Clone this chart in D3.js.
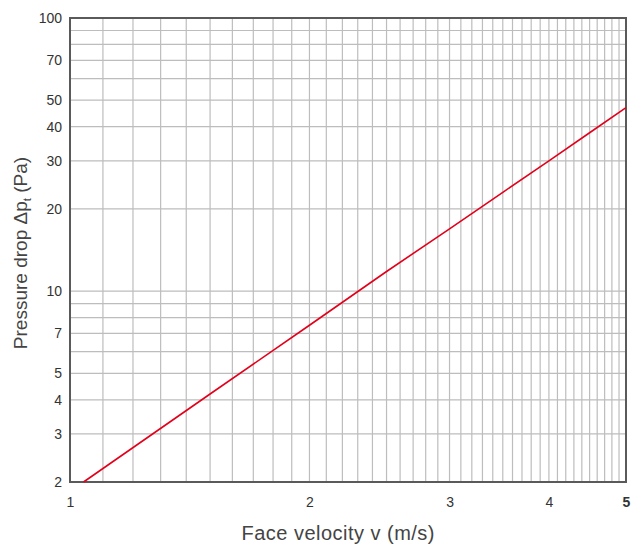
<!DOCTYPE html>
<html><head><meta charset="utf-8">
<script src="https://cdn.jsdelivr.net/npm/d3@7"></script>
<style>
html,body{margin:0;padding:0;background:#fff;}
text{font-family:"Liberation Sans",Arial,Helvetica,sans-serif;}
</style></head>
<body><svg id="c" width="638" height="544"></svg>
<script>
// Data
const velocity = [1.04, 1.5, 2, 2.5, 3, 3.5, 4, 4.5, 5];
const pressure = [2, 4.2, 7.5, 11.8, 16.9, 23, 30, 38, 47];
const xTickLabels = [1, 2, 3, 4, 5];
const yTickLabels = [2, 3, 4, 5, 7, 10, 20, 30, 40, 50, 70, 100];
const xGrid = d3.range(11, 50).map(d => d / 10);
const yGrid = [3,4,5,6,7,8,9,10,20,30,40,50,60,70,80,90];

const svg = d3.select("#c");
const L = 70, R = 626, T = 18, B = 482;
const x = d3.scaleLog().domain([1, 5]).range([L, R]);
const y = d3.scaleLog().domain([2, 100]).range([B, T]);

// grid
svg.append("g").selectAll("line").data(xGrid).join("line")
  .attr("x1", d => x(d)).attr("x2", d => x(d)).attr("y1", T).attr("y2", B)
  .attr("stroke", "#bdbdbd").attr("stroke-width", 1.2);
svg.append("g").selectAll("line").data(yGrid).join("line")
  .attr("y1", d => y(d)).attr("y2", d => y(d)).attr("x1", L).attr("x2", R)
  .attr("stroke", "#bdbdbd").attr("stroke-width", 1.2);

// frame
svg.append("rect").attr("x", L).attr("y", T).attr("width", R - L).attr("height", B - T)
  .attr("fill", "none").attr("stroke", "#5a5a5a").attr("stroke-width", 2);

// axes (labels)
const xAxis = svg.append("g").attr("transform", `translate(0,${B})`)
  .call(d3.axisBottom(x).tickValues(xTickLabels).tickSize(0).tickPadding(15).tickFormat(d3.format("d")));
xAxis.select(".domain").remove();
xAxis.selectAll("text").attr("font-size", 14).attr("fill", "#333")
  .attr("font-weight", d => d === 5 ? "bold" : "normal");

const yAxis = svg.append("g").attr("transform", `translate(${L},0)`)
  .call(d3.axisLeft(y).tickValues(yTickLabels).tickSize(0).tickPadding(8).tickFormat(d3.format("d")));
yAxis.select(".domain").remove();
yAxis.selectAll("text").attr("font-size", 14).attr("fill", "#333");

// line
svg.append("path").datum(velocity.map((v, i) => [v, pressure[i]]))
  .attr("fill", "none").attr("stroke", "#e3001b").attr("stroke-width", 1.6)
  .attr("d", d3.line().x(d => x(d[0])).y(d => y(d[1])));

// titles
svg.append("text").attr("x", 338).attr("y", 540).attr("text-anchor", "middle")
  .attr("font-size", 20).attr("fill", "#444")
  .attr("textLength", 193).attr("lengthAdjust", "spacing").text("Face velocity v (m/s)");

const yt = svg.append("text").attr("transform", "translate(27,253) rotate(-90)")
  .attr("text-anchor", "middle").attr("font-size", 19).attr("fill", "#444");
yt.append("tspan").text("Pressure drop Δp");
yt.append("tspan").attr("font-size", 11.5).attr("dy", 4).text("t");
yt.append("tspan").attr("dy", -4).text(" (Pa)");
</script></body></html>
